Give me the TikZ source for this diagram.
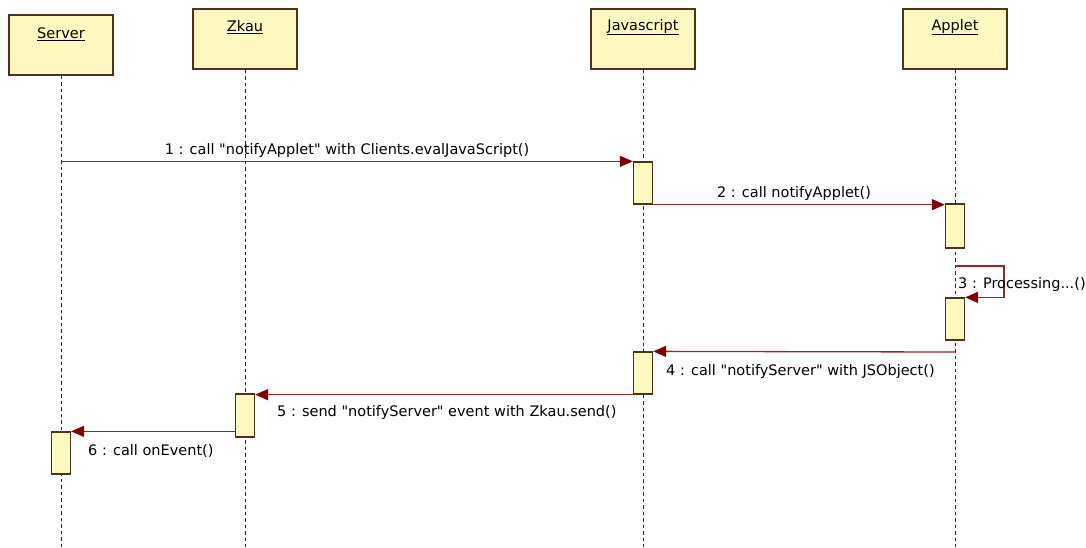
\documentclass[tikz,border=0pt]{standalone}
\usepackage{fontspec}
\setmainfont{DejaVu Sans}[Ligatures=TeXOff]
\usetikzlibrary{arrows.meta}
\definecolor{boxfill}{RGB}{255,248,192}
\definecolor{boxline}{RGB}{77,51,25}
\definecolor{msgline}{RGB}{150,40,40}
\definecolor{msgtip}{RGB}{128,0,0}
\begin{document}
\begin{tikzpicture}[x=1pt,y=-1pt,
  font=\fontsize{14.5}{17}\selectfont,
  headbox/.style={draw=boxline, line width=1.8pt, fill=boxfill,
    minimum width=104pt, minimum height=60pt, inner sep=0pt},
  headtxt/.style={inner sep=0pt},
  act/.style={draw=boxline, line width=1.3pt, fill=boxfill,
    minimum width=19pt, inner sep=0pt},
  life/.style={draw=black!85, line width=1pt, dash pattern=on 3.5pt off 3pt},
  msg/.style={draw=msgline, line width=1.3pt,
    -{Triangle[length=13pt,width=11pt,fill=msgtip,color=msgtip]}},
  lbl/.style={inner sep=0pt}]
\useasboundingbox (0,0) rectangle (1086,547);

% object headers
\node[headbox] (srv) at (61,45) {};
\node[headbox] (zk)  at (245,39) {};
\node[headbox] (js)  at (643,39) {};
\node[headbox] (ap)  at (955,39) {};
\node[headtxt] (srvT) at (61,34) {\underline{Server}};
\node[headtxt] (zkT)  at (245,27) {\underline{Zkau}};
\node[headtxt] (jsT)  at (643,27) {\underline{Javascript}};
\node[headtxt] (apT)  at (955,27) {\underline{Applet}};

% lifelines
\coordinate (srvE) at (61,547);
\coordinate (zkE)  at (245,547);
\coordinate (jsE)  at (643,547);
\coordinate (apE)  at (955,547);
\draw[life] (srv.south) -- (srvE);
\draw[life] (zk.south) -- (zkE);
\draw[life] (js.south) -- (jsE);
\draw[life] (ap.south) -- (apE);

% activation bars
\node[act, minimum height=42pt] (js1) at (643,183) {};
\node[act, minimum height=44pt] (ap1) at (955,226) {};
\node[act, minimum height=42pt] (ap2) at (955,319) {};
\node[act, minimum height=42pt] (js2) at (643,373) {};
\node[act, minimum height=43pt] (zk1) at (245,415.5) {};
\node[act, minimum height=42pt] (sv1) at (61,453) {};

% messages
\draw[msg] (srv.south |- js1.north) -- (js1.north west);
\draw[msg] (js1.south east) -- (js1.south east -| ap1.west);
\coordinate (m3s) at (955,266);
\coordinate (m3r) at (1004,266);
\draw[msg] (m3s) -- (m3r) |- (ap2.north east);
\coordinate (m4s) at (955,352);
\draw[msg] (m4s) -- (js2.north east);
\draw[msg] (js2.south west) -- (js2.south west -| zk1.east);
\draw[msg] (sv1.north -| zk1.west) -- (sv1.north east);

% message labels
\node[lbl] (l1) at (347,150) {1 : call "notifyApplet" with Clients.evalJavaScript()};
\node[lbl] (l2) at (794,193) {2 : call notifyApplet()};
\node[lbl, anchor=west] (l3) at (958,284) {3 : Processing...()};
\node[lbl, anchor=west] (l4) at (666,371) {4 : call "notifyServer" with JSObject()};
\node[lbl, anchor=west] (l5) at (277,412) {5 : send "notifyServer" event with Zkau.send()};
\node[lbl, anchor=west] (l6) at (88,451) {6 : call onEvent()};
\end{tikzpicture}
\end{document}
